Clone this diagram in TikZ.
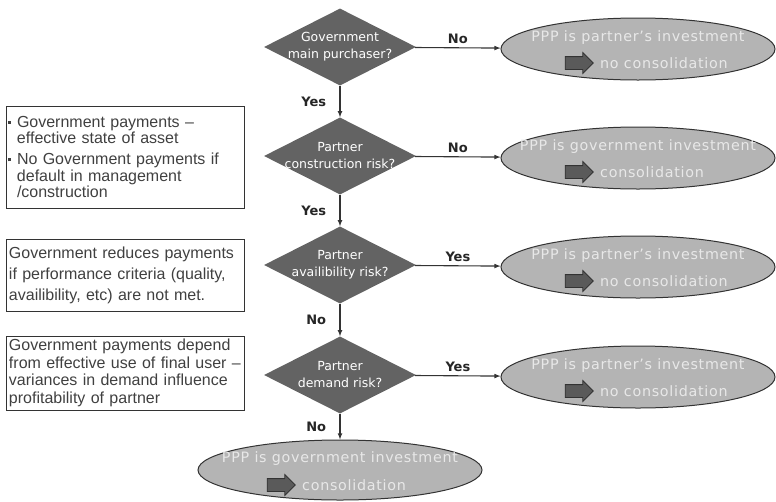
\documentclass[tikz,border=0pt]{standalone}
\usepackage{fontspec}
\setmainfont{Liberation Sans}
\newfontfamily\flowfont{DejaVu Sans}
\newfontfamily\ovalfont[LetterSpace=5]{DejaVu Sans}
\usetikzlibrary{shapes.geometric,shapes.arrows,positioning}

\definecolor{qgrey}{HTML}{636363}
\definecolor{ovalgrey}{HTML}{B4B4B4}
\definecolor{ovaltext}{HTML}{E8E8E8}
\definecolor{linegrey}{HTML}{333333}
\definecolor{arrowgrey}{HTML}{5A5A5A}

\newcommand{\sqbullet}{\makebox[9.5pt][l]{\rule[3.5pt]{3.2pt}{3.2pt}}}

\tikzset{
  question/.style={diamond, aspect=2, fill=qgrey, inner sep=-3pt,
    minimum width=152pt, minimum height=77pt, text=white, align=center,
    font=\flowfont\fontsize{12.5}{17}\selectfont},
  outcome/.style={ellipse, draw=linegrey, line width=1pt, fill=ovalgrey,
    minimum width=274pt, minimum height=62pt, inner sep=0pt},
  outtext/.style={text=ovaltext, font=\ovalfont\fontsize{14.3}{16}\selectfont, inner sep=0pt},
  blockarrow/.style={single arrow, draw=black!80, fill=arrowgrey, line width=0.8pt,
    minimum height=28pt, inner sep=6pt, single arrow head extend=4pt},
  answer/.style={font=\flowfont\bfseries\fontsize{13}{15}\selectfont, text=black!85},
  note/.style={draw=black!80, line width=0.8pt, align=left, text width=232pt,
    inner xsep=3pt, inner ysep=2pt, text=black!75},
  flow/.style={->, >=latex, line width=1.1pt, draw=linegrey}
}

\begin{document}
\begin{tikzpicture}[x=1pt,y=-1pt]
    \useasboundingbox (0,0) rectangle (776,501);

    % decisions
    \node[question] (q1) at (340,47) {Government\\main purchaser?};
    \node[question] (q2) at (340,156) {Partner\\construction risk?};
    \node[question] (q3) at (340,265) {Partner\\availibility risk?};
    \node[question] (q4) at (340,375) {Partner\\demand risk?};

    % outcomes
    \foreach \name/\x/\y/\linea/\lineb in {r1/638/49/{PPP is partner’s investment}/{no consolidation},
        r2/638/158/{PPP is government investment}/{consolidation},
        r3/638/267/{PPP is partner’s investment}/{no consolidation},
        r4/638/377/{PPP is partner’s investment}/{no consolidation}}
        {\node[outcome] (\name) at (\x,\y) {};
         \node[outtext] (\name a) at (\x,{\y-11}) {\linea};
         \node[blockarrow] (\name arrow) at ({\x-62},{\y+14}) {};
         \node[outtext, anchor=west] (\name b) at ({\x-38},{\y+14}) {\lineb};}

    \node[outcome, minimum width=284pt, minimum height=60pt] (r5) at (340,470) {};
    \node[outtext] (r5a) at (340,459) {PPP is government investment};
    \node[blockarrow] (r5arrow) at (278,485) {};
    \node[outtext, anchor=west] (r5b) at (302,485) {consolidation};

    % notes
    \node[note, inner xsep=1.5pt, text width=235pt, minimum height=102pt,
        font=\fontsize{16}{16.5}\selectfont] (n1) at (125,157)
        {\sqbullet Government payments –\\\hspace*{9.5pt}effective state of asset\\[4.5pt]
         \sqbullet No Government payments if\\\hspace*{9.5pt}default in management\\\hspace*{9.5pt}/construction};
    \node[note, minimum height=72pt, font=\fontsize{16}{21}\selectfont] (n2) at (125,275)
        {Government reduces payments\\if performance criteria (quality,\\availibility, etc) are not met.};
    \node[note, minimum height=74pt, font=\fontsize{16}{17.5}\selectfont] (n3) at (125,373)
        {Government payments depend\\from effective use of final user –\\variances in demand influence\\profitability of partner};

    % connectors
    \draw[flow] (q1) -- node[answer, above] {No} (r1);
    \draw[flow] (q2) -- node[answer, above] {No} (r2);
    \draw[flow] (q3) -- node[answer, above] {Yes} (r3);
    \draw[flow] (q4) -- node[answer, above] {Yes} (r4);
    \draw[flow] (q1) -- node[answer, left=10pt] {Yes} (q2);
    \draw[flow] (q2) -- node[answer, left=10pt] {Yes} (q3);
    \draw[flow] (q3) -- node[answer, left=10pt] {No} (q4);
    \draw[flow] (q4) -- node[answer, left=10pt] {No} (r5);
\end{tikzpicture}
\end{document}
